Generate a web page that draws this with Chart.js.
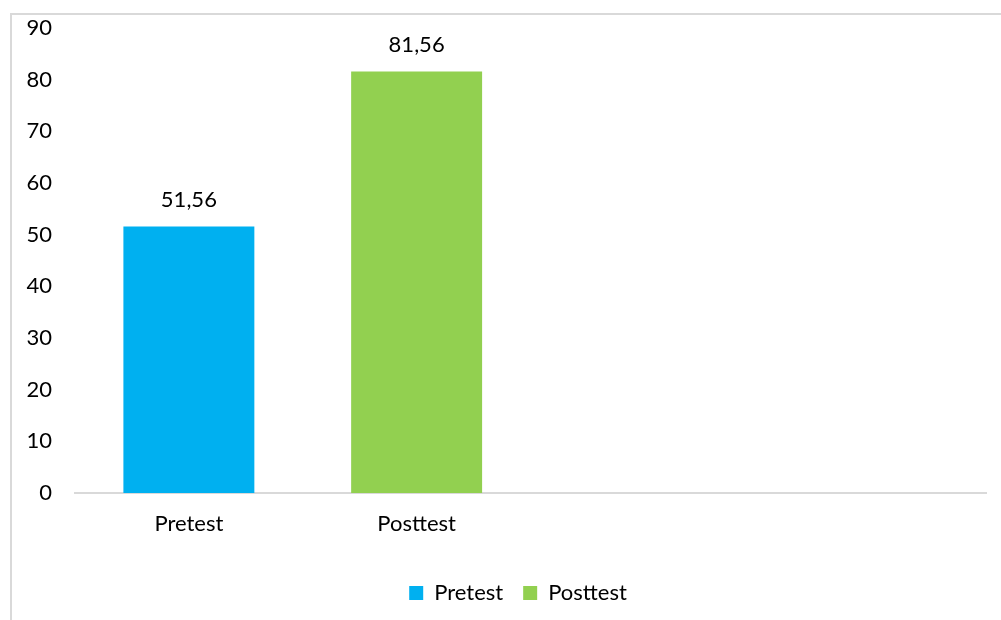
<!DOCTYPE html>
<html>
<head>
<meta charset="utf-8">
<script src="https://cdn.jsdelivr.net/npm/chart.js@4"></script>
<style>
    html, body { margin: 0; padding: 0; background: #fff; overflow: hidden; }
    #frame {
        position: absolute; left: 10px; top: 13px;
        width: 1200px; height: 800px;
        border: 2px solid #d9d9d9;
    }
    #wrap { position: absolute; left: 0; top: 0; width: 1001px; height: 620px; }
</style>
</head>
<body>
<div id="frame"></div>
<div id="wrap"><canvas id="barChart"></canvas></div>
<script>
const categories = ['Pretest', 'Posttest', '', ''];
const pretestValues = [51.56, null, null, null];
const posttestValues = [null, 81.56, null, null];
const yTicksMax = 90;
const yTicksStep = 10;

const FONT = 'Lato, "Open Sans", sans-serif';

// draws "51,56" style labels on top of each bar
const valueLabels = {
    id: 'valueLabels',
    afterDatasetsDraw(chart) {
        const ctx = chart.ctx;
        ctx.save();
        ctx.font = '22px ' + FONT;
        ctx.fillStyle = '#000';
        ctx.textAlign = 'center';
        ctx.textBaseline = 'middle';
        chart.data.datasets.forEach((ds, i) => {
            chart.getDatasetMeta(i).data.forEach((bar, j) => {
                const v = ds.data[j];
                if (v === null || v === undefined) return;
                ctx.fillText(v.toFixed(2).replace('.', ','), bar.x, bar.y - 27);
            });
        });
        ctx.restore();
    }
};

// legend in the original sits a bit right of the canvas centre
const legendShift = {
    id: 'legendShift',
    afterLayout(chart) {
        const lg = chart.legend;
        if (!lg) return;
        lg.left += 25;
        lg.right += 25;
        (lg.legendHitBoxes || []).forEach(b => { b.left += 25; });
    }
};

function initChart() {
    const ctx = document.getElementById('barChart').getContext('2d');
    new Chart(ctx, {
        type: 'bar',
        data: {
            labels: categories,
            datasets: [
                {
                    label: 'Pretest',
                    data: pretestValues,
                    backgroundColor: '#00B0F0',
                    categoryPercentage: 1,
                    barPercentage: 0.575
                },
                {
                    label: 'Posttest',
                    data: posttestValues,
                    backgroundColor: '#92D050',
                    categoryPercentage: 1,
                    barPercentage: 0.575
                }
            ]
        },
        options: {
            responsive: true,
            maintainAspectRatio: false,
            animation: false,
            layout: { padding: { top: 28, right: 15, bottom: 6, left: 0 } },
            plugins: {
                legend: {
                    position: 'bottom',
                    labels: {
                        font: { family: FONT, size: 22 },
                        color: '#000',
                        boxWidth: 14,
                        boxHeight: 14,
                        padding: 20
                    }
                },
                tooltip: { enabled: false }
            },
            scales: {
                x: {
                    stacked: true,
                    grid: { display: false, drawTicks: false },
                    border: { display: true, color: '#d9d9d9', width: 2 },
                    ticks: { color: '#000', font: { family: FONT, size: 22 }, padding: 18 },
                    afterFit: (s) => { s.height = 69; }
                },
                y: {
                    stacked: true,
                    min: 0,
                    max: yTicksMax,
                    grid: { display: false, drawTicks: false },
                    border: { display: false },
                    ticks: {
                        stepSize: yTicksStep,
                        color: '#000',
                        font: { family: FONT, size: 22 },
                        padding: 23
                    },
                    afterFit: (s) => {
                        s.width = 75;
                        s.paddingTop = 0;
                        s.paddingBottom = 0;
                    }
                }
            }
        },
        plugins: [valueLabels, legendShift]
    });
}

document.addEventListener('DOMContentLoaded', initChart);
</script>
</body>
</html>
